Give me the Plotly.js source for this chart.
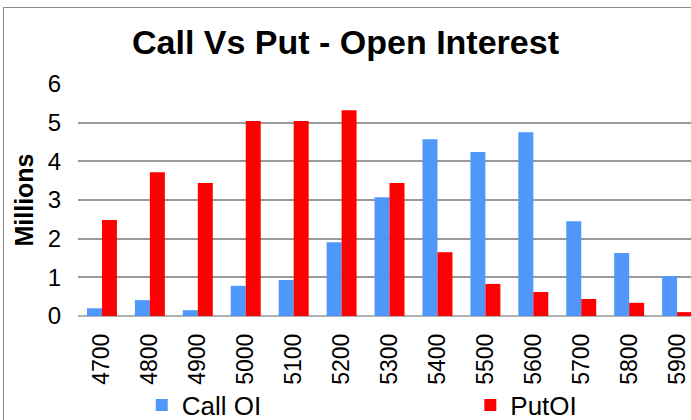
<!DOCTYPE html>
<html>
<head>
<meta charset="utf-8">
<script src="https://cdn.plot.ly/plotly-3.0.1.min.js"></script>
<style>
  body { margin: 0; background: #fff; }
  #chart { position: absolute; left: 0; top: 0; width: 691px; height: 420px; }
  #frame { position: absolute; left: 3px; top: 7px; width: 800px; height: 500px;
           border: 1px solid #8c8c8c; pointer-events: none; }
</style>
</head>
<body>
<div id="chart"></div>
<div id="frame"></div>
<script>
var strikes = ['4700', '4800', '4900', '5000', '5100', '5200', '5300',
               '5400', '5500', '5600', '5700', '5800', '5900'];
// open interest, millions
var callOI = [0.20, 0.41, 0.15, 0.78, 0.93, 1.91, 3.07, 4.57, 4.24, 4.75, 2.45, 1.63, 1.03];
var putOI  = [2.48, 3.72, 3.44, 5.04, 5.04, 5.32, 3.44, 1.65, 0.83, 0.62, 0.44, 0.34, 0.10];

var CHART = document.getElementById('chart');

var calls = {
  x: strikes,
  y: callOI,
  name: 'Call OI',
  type: 'bar',
  marker: {color: '#5097fc'},
  legend: 'legend'
};

var puts = {
  x: strikes,
  y: putOI,
  name: 'PutOI',
  type: 'bar',
  marker: {color: '#ff0000'},
  legend: 'legend2'
};

// each series gets its own legend box so they can sit far apart like the original
var legendStyle = {
  orientation: 'h',
  xanchor: 'left',
  y: 15 / 420, yref: 'container', yanchor: 'middle',
  font: {size: 26},
  bgcolor: 'rgba(0,0,0,0)'
};

var layout = {
  width: 691,
  height: 420,
  margin: {l: 78, r: 0, t: 84, b: 104},
  paper_bgcolor: 'rgba(0,0,0,0)',
  plot_bgcolor: 'rgba(0,0,0,0)',
  font: {family: 'Liberation Sans, Arial, sans-serif', color: '#000'},
  title: {
    text: '<b>Call Vs Put - Open Interest</b>',
    font: {size: 34, color: '#000'},
    x: 0.5, xref: 'container',
    y: 1 - 42 / 420, yref: 'container', yanchor: 'middle'
  },
  barmode: 'group',
  bargap: 0.375,
  bargroupgap: 0,
  xaxis: {
    type: 'category',
    range: [-0.5, 12.29],
    tickangle: -90,
    tickfont: {size: 23},
    ticklabelstandoff: 12,
    showgrid: false,
    showline: false,
    ticks: ''
  },
  yaxis: {
    range: [0, 6],
    dtick: 1,
    tickfont: {size: 24},
    gridcolor: '#999999',
    gridwidth: 1.5,
    zeroline: true,
    zerolinecolor: '#b0b0b0',
    zerolinewidth: 2,
    ticklabelstandoff: 16,
    title: {text: '<b>Millions</b>', font: {size: 25}, standoff: 6}
  },
  showlegend: true,
  legend: Object.assign({x: 0.104}, legendStyle),
  legend2: Object.assign({x: 0.64}, legendStyle)
};

Plotly.newPlot(CHART, [calls, puts], layout, {displayModeBar: false});
</script>
</body>
</html>
